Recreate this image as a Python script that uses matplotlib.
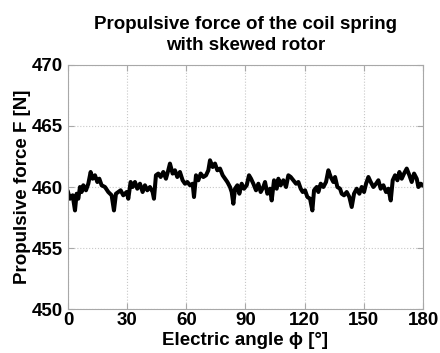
import matplotlib
matplotlib.use("Agg")
import matplotlib.pyplot as plt

plt.rcParams['font.family'] = ['Liberation Sans', 'DejaVu Sans']

angle = [0.0, 1.01, 2.37, 3.55, 4.39, 5.24, 6.08, 6.93, 7.77, 9.12, 10.31, 11.49, 12.50,
         13.69, 14.87, 15.88, 17.06, 18.75, 20.44, 22.13, 23.31, 24.33, 25.51, 26.69,
         28.04, 29.73, 30.58, 31.76, 32.77, 33.96, 35.14, 36.49, 37.84, 39.02, 40.21,
         41.56, 42.91, 43.59, 44.60, 45.78, 46.97, 48.32, 49.67, 50.85, 51.70, 53.05,
         54.23, 55.41, 56.76, 58.12,
         59.33, 60.51, 61.87, 63.22, 63.89, 64.91, 66.09, 67.28, 68.63, 69.98, 71.16,
         72.01, 73.36, 74.54, 75.73, 77.08, 78.43, 79.61, 80.80, 82.15, 83.00, 83.84,
         84.69, 85.87, 86.88, 88.07, 89.25, 90.60, 91.78, 92.80, 93.98, 95.33, 96.52,
         97.70, 99.05, 99.90, 101.08, 102.43, 103.28, 104.46, 105.82, 106.66, 107.84,
         109.19, 110.55, 111.73, 112.92, 114.27, 115.62, 116.80, 117.99,
         119.00, 120.18, 121.37, 122.72, 123.90, 124.75, 126.10, 126.94, 128.13, 129.48,
         130.83, 132.01, 133.20, 134.55, 135.40, 136.58, 137.93, 138.78, 139.96, 141.31,
         142.66, 143.85, 145.03, 146.38, 147.73, 148.92, 150.10, 151.12, 152.30, 153.48,
         154.83, 156.19, 157.37, 158.55, 159.91, 161.26, 162.44, 163.63, 164.64, 165.82,
         167.00, 168.02, 169.20, 170.39, 171.74, 173.09, 174.27, 175.46, 176.81, 177.65,
         178.84, 180.0]

force = [459.59, 459.04, 459.32, 458.08, 459.45, 459.04, 460.00, 459.59, 460.14, 459.73,
         460.27, 461.23, 460.68, 460.96, 460.41, 460.68, 460.14, 460.00, 459.59, 459.32,
         458.08, 459.45, 459.59, 459.73, 459.32, 459.59, 459.04, 460.41, 460.00, 460.41,
         459.86, 460.27, 459.59, 460.14, 459.73, 460.00, 459.59, 459.04, 460.96, 461.10,
         460.82, 461.23, 460.68, 461.37, 461.92, 461.10, 461.37, 460.82, 461.23, 460.55,
         460.27, 460.41, 460.14, 460.27, 459.18, 460.96, 460.55, 461.10, 460.82, 460.96,
         461.37, 462.19, 461.64, 461.92, 461.37, 461.51, 460.96, 460.68, 460.41, 460.00,
         459.59, 458.63, 459.86, 460.14, 459.45, 460.27, 459.86, 460.14, 460.96, 460.68,
         460.27, 459.73, 460.27, 459.59, 460.00, 460.41, 459.45, 459.86, 458.90, 460.55,
         459.86, 460.68, 460.14, 460.55, 460.00, 460.96, 460.82, 460.55, 460.27, 460.41,
         459.86,
         459.59, 459.73, 459.18, 459.04, 458.08, 459.73, 460.00, 459.59, 460.27, 460.00,
         460.41, 461.37, 460.82, 460.41, 460.82, 460.00, 459.86, 459.45, 459.32, 459.59,
         459.18, 458.36, 459.45, 459.86, 459.45, 460.00, 459.59, 460.27, 460.82, 460.41,
         460.00, 460.27, 460.55, 459.86, 460.14, 459.59, 459.86, 458.90, 460.55, 460.96,
         460.55, 461.23, 460.68, 461.10, 461.51, 460.96, 460.41, 461.10, 460.68, 460.00,
         460.27, 460.14]

xticks = [0, 30, 60, 90, 120, 150, 180]
yticks = [450, 455, 460, 465, 470]

fig = plt.figure(figsize=(4.4, 3.53), dpi=100)
ax = fig.add_axes([0.1545, 0.1246, 0.8069, 0.6913])
ax.plot(angle, force, color='black', linewidth=2.9)
ax.set_xlim(0, 180)
ax.set_ylim(450, 470)
ax.set_xticks(xticks)
ax.set_yticks(yticks)
ax.grid(True, linestyle=':', color='#c8c8c8', linewidth=0.8)
for s in ax.spines.values():
    s.set_color('#a8a8a8')
    s.set_linewidth(0.8)
ax.tick_params(direction='in', top=True, right=True, color='#a8a8a8', length=4,
               labelsize=13.5)
ax.tick_params(axis='x', pad=2)
ax.tick_params(axis='y', pad=4)
for lab in ax.get_xticklabels() + ax.get_yticklabels():
    lab.set_fontweight('bold')
ax.set_xlabel('Electric angle ϕ [°]', fontsize=13.5, fontweight='bold', labelpad=2)
ax.set_ylabel('Propulsive force F [N]', fontsize=13.5, fontweight='bold', labelpad=0)
ax.set_title('Propulsive force of the coil spring\nwith skewed rotor', fontsize=13.5,
             fontweight='bold', pad=11, linespacing=1.3)
fig.savefig('out.png', dpi=100)
